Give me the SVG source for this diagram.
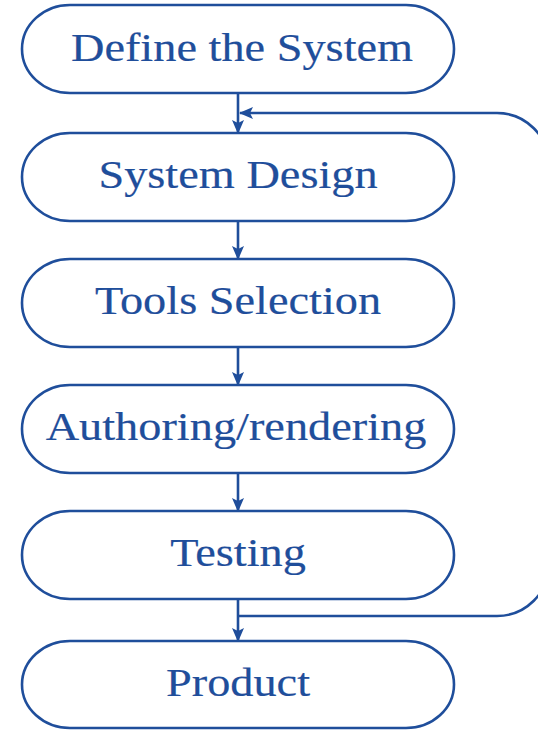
<svg xmlns="http://www.w3.org/2000/svg" width="538" height="730" viewBox="0 0 538 730">
  <defs>
    <style>
      .box { fill: #ffffff; stroke: #1f4e9b; stroke-width: 2.6; }
      .label { font-family: "Liberation Serif", "Times New Roman", Times, serif; font-size: 41px; fill: #1f4e9b; stroke: #1f4e9b; stroke-width: 0.2; text-anchor: middle; }
      .link { fill: none; stroke: #1f4e9b; stroke-width: 2.6; }
    </style>
    <marker id="head" viewBox="0 0 14 12" refX="13" refY="6" markerWidth="14" markerHeight="12" markerUnits="userSpaceOnUse" orient="auto">
      <path d="M0,0 L14,6 L0,12 L3,6 Z" fill="#1f4e9b"/>
    </marker>
  </defs>
  <rect width="538" height="730" fill="#ffffff"/>

  <!-- connectors -->
  <g id="connectors">
    <line class="link" x1="238" y1="93" x2="238" y2="133" marker-end="url(#head)"/>
    <line class="link" x1="238" y1="221" x2="238" y2="259" marker-end="url(#head)"/>
    <line class="link" x1="238" y1="347" x2="238" y2="385" marker-end="url(#head)"/>
    <line class="link" x1="238" y1="473" x2="238" y2="511" marker-end="url(#head)"/>
    <line class="link" x1="238" y1="599" x2="238" y2="641" marker-end="url(#head)"/>
    <!-- feedback loop from Testing back to System Design -->
    <path class="link" d="M238,616 L497,616 A52,52 0 0 0 549,564 L549,165 A52,52 0 0 0 497,113 L240,113" marker-end="url(#head)"/>
  </g>

  <!-- labels are widened horizontally to the face used in the chart -->
  <g id="node-define">
    <rect class="box" x="22" y="5" width="432" height="88" rx="48" ry="44"/>
    <text class="label" transform="translate(242,61) scale(1.13,1)">Define the System</text>
  </g>
  <g id="node-design">
    <rect class="box" x="22" y="133" width="432" height="88" rx="48" ry="44"/>
    <text class="label" transform="translate(238,188) scale(1.13,1)">System Design</text>
  </g>
  <g id="node-tools">
    <rect class="box" x="22" y="259" width="432" height="88" rx="48" ry="44"/>
    <text class="label" transform="translate(238,314) scale(1.13,1)">Tools Selection</text>
  </g>
  <g id="node-authoring">
    <rect class="box" x="22" y="385" width="432" height="88" rx="48" ry="44"/>
    <text class="label" transform="translate(236,440) scale(1.13,1)">Authoring/rendering</text>
  </g>
  <g id="node-testing">
    <rect class="box" x="22" y="511" width="432" height="88" rx="48" ry="44"/>
    <text class="label" transform="translate(238,566) scale(1.13,1)">Testing</text>
  </g>
  <g id="node-product">
    <rect class="box" x="22" y="641" width="432" height="87" rx="48" ry="44"/>
    <text class="label" transform="translate(238,696) scale(1.13,1)">Product</text>
  </g>
</svg>
